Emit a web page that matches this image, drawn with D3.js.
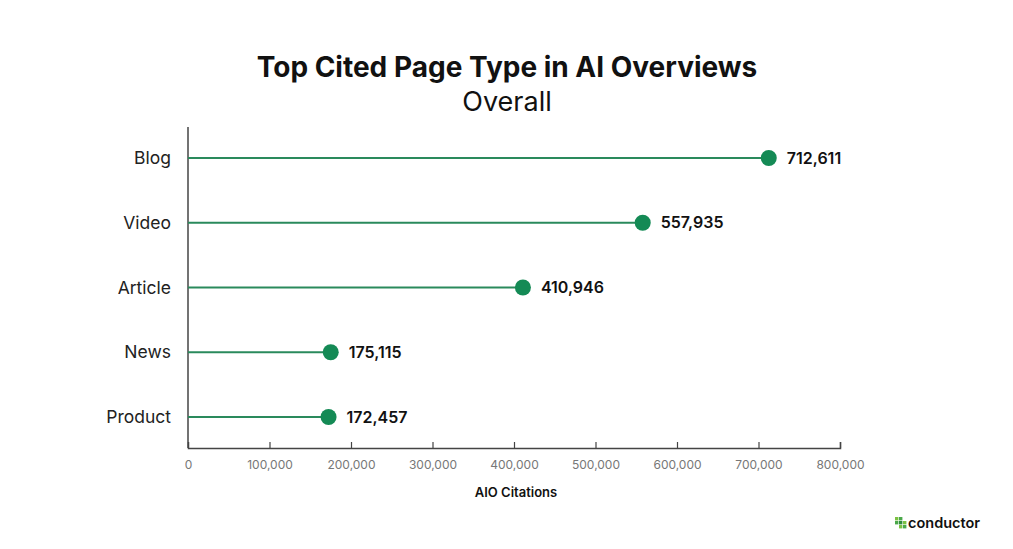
<!DOCTYPE html>
<html>
<head>
<meta charset="utf-8">
<script src="https://cdn.jsdelivr.net/npm/d3@7"></script>
<style>
  body { margin: 0; background: #fff; }
  text { font-family: Inter, "Noto Sans", sans-serif; }
</style>
</head>
<body>
<svg id="chart" width="1013" height="549"></svg>
<script>
// page types and their AIO citation counts
var categories = ["Blog", "Video", "Article", "News", "Product"];
var citations = [712611, 557935, 410946, 175115, 172457];
var tickValues = [0, 100000, 200000, 300000, 400000, 500000, 600000, 700000, 800000];

var svg = d3.select("#chart");
var green = "#148a55";

var x = d3.scaleLinear().domain([0, 800000]).range([188, 840]);
var y = d3.scalePoint().domain(categories).range([158, 417]);

var rows = categories.map(function(c, i) { return { name: c, value: citations[i] }; });

svg.append("text")
  .attr("x", 507).attr("y", 77)
  .attr("text-anchor", "middle")
  .attr("font-size", 28).attr("font-weight", 700)
  .attr("fill", "#111")
  .text("Top Cited Page Type in AI Overviews");

svg.append("text")
  .attr("x", 507).attr("y", 111)
  .attr("text-anchor", "middle")
  .attr("font-size", 27).attr("font-weight", 400)
  .attr("fill", "#111")
  .text("Overall");

// axes
svg.append("line")
  .attr("x1", 188).attr("x2", 188)
  .attr("y1", 127).attr("y2", 448)
  .attr("stroke", "#444").attr("stroke-width", 1.5);

var xAxis = svg.append("g")
  .attr("transform", "translate(0,448)")
  .call(d3.axisBottom(x).tickValues(tickValues).tickSize(-6).tickPadding(12)
    .tickFormat(d3.format(",")));
xAxis.select(".domain").attr("stroke", "#444").attr("stroke-width", 1.5);
xAxis.selectAll(".tick line").attr("stroke", "#444").attr("stroke-width", 1.2);
xAxis.selectAll(".tick text")
  .attr("font-size", 12).attr("fill", "#777")
  .style("font-family", "Inter, 'Noto Sans', sans-serif");
xAxis.select(".tick:first-of-type line").remove();

svg.append("text")
  .attr("x", 516).attr("y", 497)
  .attr("text-anchor", "middle")
  .attr("font-size", 13).attr("font-weight", 600)
  .attr("fill", "#111")
  .text("AIO Citations");

// category labels
svg.selectAll(".cat")
  .data(rows)
  .enter().append("text")
  .attr("class", "cat")
  .attr("x", 171)
  .attr("y", function(d) { return y(d.name); })
  .attr("dy", "0.35em")
  .attr("text-anchor", "end")
  .attr("font-size", 17.5)
  .attr("fill", "#222")
  .text(function(d) { return d.name; });

// lollipops
svg.selectAll(".stem")
  .data(rows)
  .enter().append("line")
  .attr("class", "stem")
  .attr("x1", x(0))
  .attr("x2", function(d) { return x(d.value); })
  .attr("y1", function(d) { return y(d.name); })
  .attr("y2", function(d) { return y(d.name); })
  .attr("stroke", "#2a8a5c").attr("stroke-width", 2.2);

svg.selectAll(".dot")
  .data(rows)
  .enter().append("circle")
  .attr("class", "dot")
  .attr("cx", function(d) { return x(d.value); })
  .attr("cy", function(d) { return y(d.name); })
  .attr("r", 8)
  .attr("fill", green);

svg.selectAll(".val")
  .data(rows)
  .enter().append("text")
  .attr("class", "val")
  .attr("x", function(d) { return x(d.value) + 18; })
  .attr("y", function(d) { return y(d.name); })
  .attr("dy", "0.35em")
  .attr("font-size", 16).attr("font-weight", 600)
  .attr("fill", "#111")
  .text(function(d) { return d3.format(",")(d.value); });

// conductor logo
var logo = svg.append("g").attr("transform", "translate(895,517)");
[[0,0,"#7bc142"],[4,0,"#4aa84a"],[0,4,"#4aa84a"],[4,4,"#2e8b3a"],[8,4,"#7bc142"],[4,8,"#7bc142"],[8,8,"#4aa84a"]]
  .forEach(function(s) {
    logo.append("rect").attr("x", s[0]).attr("y", s[1])
      .attr("width", 3.4).attr("height", 3.4).attr("fill", s[2]);
  });
svg.append("text")
  .attr("x", 908).attr("y", 528)
  .attr("font-size", 14.5).attr("font-weight", 600)
  .attr("fill", "#111")
  .text("conductor");
</script>
</body>
</html>
